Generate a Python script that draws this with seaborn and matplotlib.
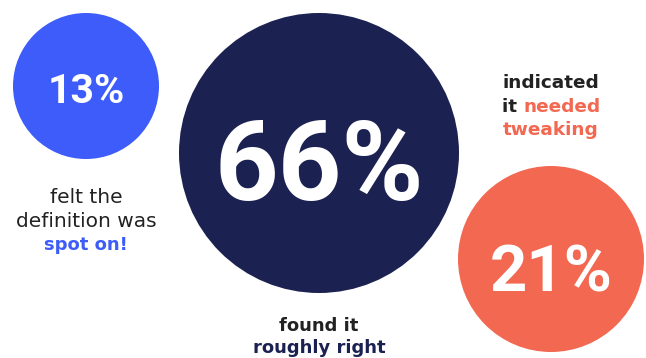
import matplotlib
matplotlib.use("Agg")
import matplotlib.pyplot as plt
import seaborn as sns
import pandas as pd

# ---- data ----
labels = ["13%", "66%", "21%"]
values = [13, 66, 21]
groups = ["spot on", "roughly right", "needed tweaking"]
captions = [
    [[("felt the", "text")], [("definition was", "text")], [("spot on!", "blue")]],
    [[("found it", "text")], [("roughly right", "navy")]],
    [[("indicated", "text")], [("it ", "text"), ("needed", "coral")], [("tweaking", "coral")]],
]

# ---- style / layout ----
W, H = 646, 358
colors = {"blue": "#3D5CF9", "navy": "#1B2151", "coral": "#F26851", "text": "#222222"}
circle_colors = ["#3D5CF9", "#1B2151", "#F26851"]
cx = [86, 319, 551]
cy = [86, 153, 259]
radius = [73, 140, 93]
num_size = [29.5, 80, 47]
num_base = [103, 200, 292]
cap_x = [86, 319, 551]
cap_base = [[203, 227, 250], [331, 353], [88, 112, 135]]
cap_weight = [["normal", "normal", "bold"], ["semibold", "bold"], ["semibold", "semibold", "bold"]]
cap_size = [[14.5, 14.5, 13], [13, 13], [13.3, 13.3, 13.3]]
NUM_FONT = ["Roboto", "DejaVu Sans"]
CAP_FONT = ["DejaVu Sans"]

sns.set_theme(style="white")
plt.rcParams["font.family"] = CAP_FONT

fig = plt.figure(figsize=(W / 100, H / 100), dpi=100)
ax = fig.add_axes([0, 0, 1, 1])
ax.set_xlim(0, W)
ax.set_ylim(H, 0)
ax.set_axis_off()

df = pd.DataFrame({"group": groups, "value": values, "x": cx, "y": cy,
                   "s": [(2 * r * 0.72) ** 2 for r in radius]})
sns.scatterplot(data=df, x="x", y="y", hue="group", size="group",
                palette=dict(zip(groups, circle_colors)),
                sizes=dict(zip(groups, df["s"])),
                linewidth=0, legend=False, ax=ax, zorder=1)

for i, lab in enumerate(labels):
    ax.text(cx[i], num_base[i], lab, color="white", fontsize=num_size[i],
            fontweight="bold", ha="center", va="baseline", zorder=3,
            family=NUM_FONT)

fig.canvas.draw()
renderer = fig.canvas.get_renderer()

def multicolor_line(x, y, parts, weight, size):
    texts = []
    for s, role in parts:
        t = ax.text(0, y, s, color=colors[role], fontsize=size, fontweight=weight,
                    ha="left", va="baseline", zorder=3)
        texts.append(t)
    widths = [t.get_window_extent(renderer=renderer).width for t in texts]
    start = x - sum(widths) / 2
    for t, w in zip(texts, widths):
        t.set_x(start)
        start += w

for i, lines in enumerate(captions):
    for j, parts in enumerate(lines):
        multicolor_line(cap_x[i], cap_base[i][j], parts, cap_weight[i][j], cap_size[i][j])

fig.savefig("out.png", dpi=100, facecolor="white")
